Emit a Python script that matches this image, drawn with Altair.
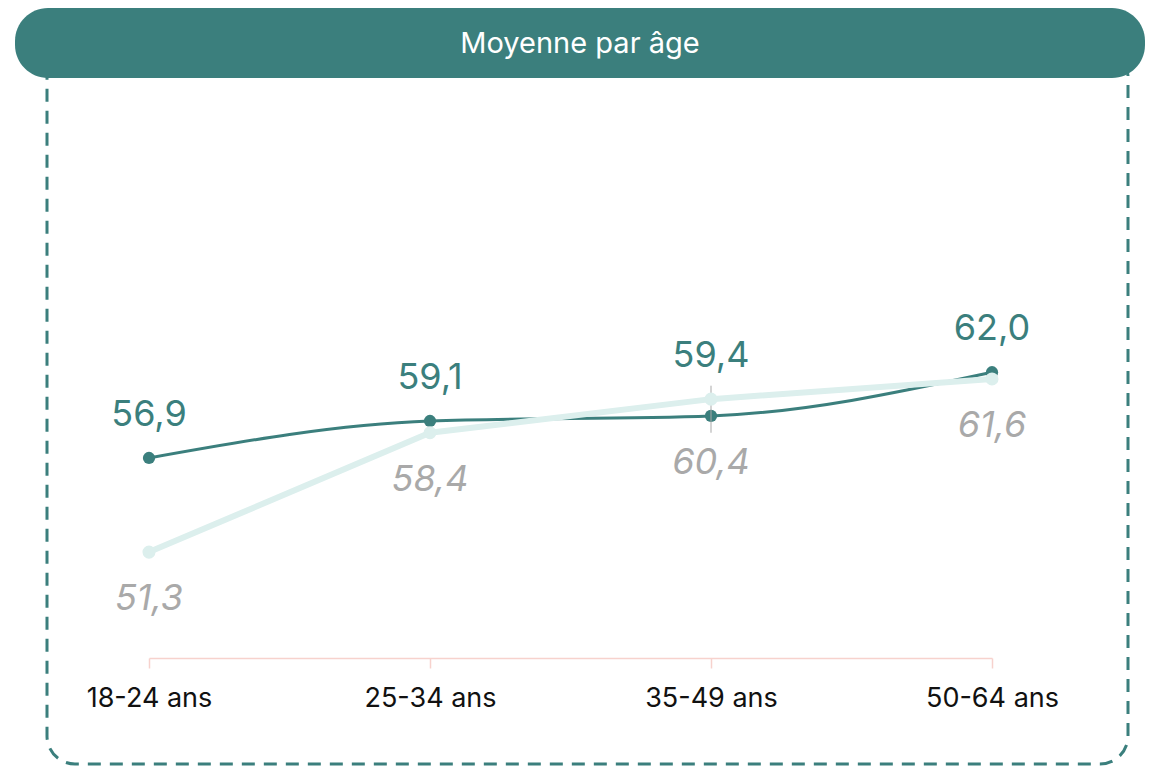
import altair as alt
import pandas as pd

categories = ["18-24 ans", "25-34 ans", "35-49 ans", "50-64 ans"]
series_dark = [56.9, 59.1, 59.4, 62.0]
series_light = [51.3, 58.4, 60.4, 61.6]
title_text = "Moyenne par âge"
hover_category = "35-49 ans"

TEAL = "#3b7f7d"
LIGHT = "#dcefed"
GREY = "#a9a9a9"
FONT = "Inter"

def fmt(v):
    return f"{v:.1f}".replace(".", ",")

df = pd.DataFrame({
    "cat": categories,
    "dark": series_dark,
    "light": series_light,
})
df["top"] = df[["dark", "light"]].max(axis=1)
df["bottom"] = df[["dark", "light"]].min(axis=1)
df["dark_lbl"] = [fmt(v) for v in series_dark]
df["light_lbl"] = [fmt(v) for v in series_light]

x_enc = alt.X("cat:N", sort=categories,
              scale=alt.Scale(type="point", range=[141, 984], padding=0),
              axis=alt.Axis(title=None, labelAngle=0, labelFontSize=27, labelFont=FONT,
                            labelColor="#111111", domainColor="#f7d2cd", tickColor="#f7d2cd",
                            domainWidth=1.5, tickWidth=1.5, tickSize=10, labelPadding=17,
                            grid=False))
y_scale = alt.Scale(domain=[45, 83.67], nice=False, zero=False)

base = alt.Chart(df)

one = alt.Chart(pd.DataFrame({"t": [title_text]}))

border = one.mark_rect(filled=False, stroke=TEAL, strokeWidth=3, strokeDash=[13, 9],
                       cornerRadius=28).encode(
    x=alt.value(39), x2=alt.value(1120), y=alt.value(40), y2=alt.value(756))

banner = one.mark_rect(fill=TEAL, cornerRadius=33).encode(
    x=alt.value(7), x2=alt.value(1137), y=alt.value(0), y2=alt.value(70))

banner_text = one.mark_text(color="white", fontSize=29, font=FONT, align="center",
                            baseline="middle").encode(
    x=alt.value(572), y=alt.value(36), text="t:N")

dark_line = base.mark_line(color=TEAL, strokeWidth=3, interpolate="monotone").encode(
    x=x_enc, y=alt.Y("dark:Q", scale=y_scale, axis=None))
dark_pts = base.mark_circle(color=TEAL, opacity=1, size=150).encode(
    x=x_enc, y=alt.Y("dark:Q", scale=y_scale, axis=None))

light_line = base.mark_line(color=LIGHT, strokeWidth=6).encode(
    x=x_enc, y=alt.Y("light:Q", scale=y_scale, axis=None))
light_pts = base.mark_circle(color=LIGHT, opacity=1, size=170).encode(
    x=x_enc, y=alt.Y("light:Q", scale=y_scale, axis=None))

hover = base.transform_filter(alt.datum.cat == hover_category).transform_calculate(
    r1="datum.top + 0.8", r2="datum.bottom - 1.0"
).mark_rule(color=GREY, strokeWidth=1).encode(
    x=x_enc, y=alt.Y("r1:Q", scale=y_scale, axis=None), y2="r2:Q")

dark_lbl = base.mark_text(color=TEAL, fontSize=36, font=FONT, dy=-43,
                          baseline="middle", align="center").encode(
    x=x_enc, y=alt.Y("top:Q", scale=y_scale, axis=None), text="dark_lbl:N")
light_lbl = base.mark_text(color=GREY, fontSize=36, font=FONT, fontStyle="italic", dy=47,
                           baseline="middle", align="center").encode(
    x=x_enc, y=alt.Y("bottom:Q", scale=y_scale, axis=None), text="light_lbl:N")

chart = alt.layer(
    border, banner, banner_text, dark_line, dark_pts, hover, light_line, light_pts,
    dark_lbl, light_lbl
).properties(
    width=1142, height=650,
    autosize=alt.AutoSizeParams(type="none"),
    padding={"left": 0, "top": 0, "right": 0, "bottom": 108},
).configure(font=FONT).configure_view(strokeWidth=0, stroke="transparent")

chart.save("out.html", embed_options={"renderer": "svg", "actions": False})
